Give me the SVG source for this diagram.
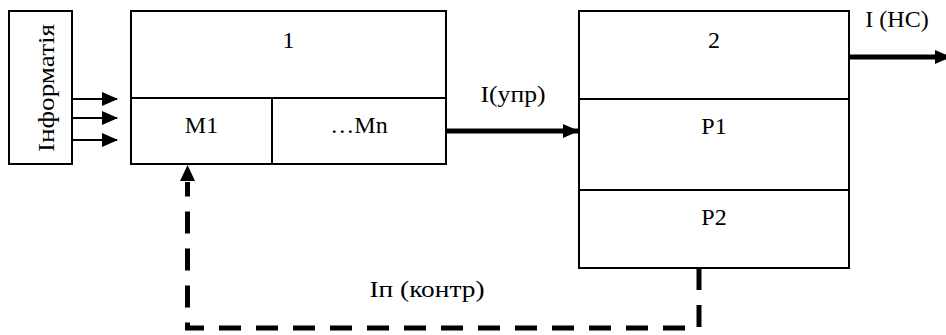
<svg xmlns="http://www.w3.org/2000/svg" width="946" height="335" viewBox="0 0 946 335">
<style>
.box{fill:#fff;stroke:#000;stroke-width:2}
.ln{stroke:#000;stroke-width:2;fill:none}
.t{font-family:'Liberation Serif','Times New Roman',serif;font-size:24px;fill:#000;text-anchor:middle}
.thin{stroke:#000;stroke-width:2;fill:none}
.thick{stroke:#000;stroke-width:5;fill:none}
.dash{stroke:#000;stroke-width:5;fill:none;stroke-dasharray:22 15;stroke-linejoin:miter}
</style>
<defs>
<marker id="ah" markerUnits="userSpaceOnUse" markerWidth="16" markerHeight="14" refX="15" refY="7" orient="auto">
<path d="M0,0 L16,7 L0,14 Z" fill="#000"/>
</marker>
</defs>
<g id="info">
<rect class="box" x="9" y="11" width="63" height="153"/>
<text class="t" transform="translate(53.5,88) rotate(-90)" textLength="128" lengthAdjust="spacingAndGlyphs">Інформатія</text>
</g>
<g id="block1">
<rect class="box" x="131" y="11" width="315" height="153"/>
<line class="ln" x1="131" y1="98" x2="446" y2="98"/>
<line class="ln" x1="272" y1="98" x2="272" y2="164"/>
<text class="t" x="288.5" y="48">1</text>
<text class="t" x="201.5" y="133">M1</text>
<text class="t" x="359" y="133">…Mn</text>
</g>
<g id="block2">
<rect class="box" x="579" y="11" width="270" height="257"/>
<line class="ln" x1="579" y1="99" x2="849" y2="99"/>
<line class="ln" x1="579" y1="190" x2="849" y2="190"/>
<text class="t" x="714" y="48">2</text>
<text class="t" x="714" y="134">P1</text>
<text class="t" x="714" y="225">P2</text>
</g>
<g id="connectors">
<line class="thin" x1="72" y1="99" x2="117" y2="99" marker-end="url(#ah)"/>
<line class="thin" x1="72" y1="118" x2="117" y2="118" marker-end="url(#ah)"/>
<line class="thin" x1="72" y1="140" x2="117" y2="140" marker-end="url(#ah)"/>
<line class="thick" x1="446" y1="131" x2="578" y2="131" marker-end="url(#ah)"/>
<line class="thick" x1="849" y1="57" x2="950" y2="57" marker-end="url(#ah)"/>
<path class="dash" d="M699,268 V328 H187.5 V182"/>
<path d="M180,181 L187.5,165 L195,181 Z" fill="#000"/>
<text class="t" x="513" y="102" textLength="65" lengthAdjust="spacingAndGlyphs">I(упр)</text>
<text class="t" x="897" y="27">I (НС)</text>
<text class="t" x="427" y="297" textLength="115" lengthAdjust="spacingAndGlyphs">Іп (контр)</text>
</g>
</svg>
